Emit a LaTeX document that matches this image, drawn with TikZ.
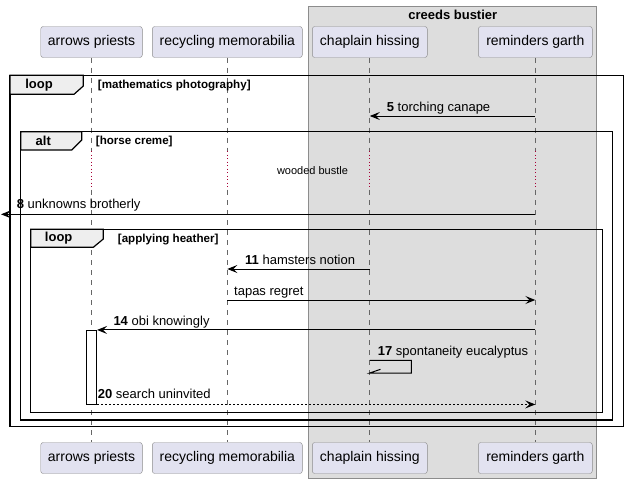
\documentclass[tikz,border=0pt]{standalone}
\usepackage{fontspec}
\setmainfont{Liberation Sans}
\usetikzlibrary{arrows.meta}

\definecolor{partfill}{HTML}{E2E2F0}
\definecolor{partline}{HTML}{8C8C8C}
\definecolor{grpfill}{HTML}{DDDDDD}
\definecolor{tabfill}{HTML}{EEEEEE}
\definecolor{delayred}{HTML}{A80036}

\tikzset{
  part/.style={draw=partline,fill=partfill,rounded corners=2.5pt,
    minimum height=31pt,inner sep=0pt,font=\fontsize{14}{16}\selectfont},
  life/.style={draw=gray!80!black,line width=.8pt,dash pattern=on 5pt off 5pt},
  delay/.style={draw=delayred,line width=.9pt,dash pattern=on 1pt off 2.5pt},
  frame/.style={draw=black,line width=1.5pt},
  tab/.style={fill=tabfill,draw=black,line width=1.2pt},
  msg/.style={draw=black,line width=1pt,-{Stealth[length=10pt,width=8pt,inset=4pt]}},
  rmsg/.style={msg,dash pattern=on 2pt off 2pt},
  lbl/.style={anchor=base west,inner sep=0pt,font=\fontsize{13}{15}\selectfont},
  kw/.style={inner sep=0pt,font=\bfseries\fontsize{13}{15}\selectfont},
  guard/.style={anchor=west,inner sep=0pt,font=\bfseries\fontsize{11.6}{13}\selectfont}
}

\begin{document}
\begin{tikzpicture}[x=1pt,y=-1pt]
  \useasboundingbox (0,0) rectangle (627,483);

  % box round the last two
  \filldraw[fill=grpfill,draw=partline] (308.3,6) rectangle (596,478);
  \node[kw] (grp) at (452.8,15) {creeds bustier};

  % participants, top and bottom
  \node[part,minimum width=101.6pt] (ap) at (91.5,42) {arrows priests};
  \node[part,minimum width=150pt] (rm) at (227.3,42) {recycling memorabilia};
  \node[part,minimum width=115pt] (ch) at (369.8,42) {chaplain hissing};
  \node[part,minimum width=114pt] (rg) at (535.3,42) {reminders garth};
  \node[part,minimum width=101.6pt] (ap-b) at (91.5,458) {arrows priests};
  \node[part,minimum width=150pt] (rm-b) at (227.3,458) {recycling memorabilia};
  \node[part,minimum width=115pt] (ch-b) at (369.8,458) {chaplain hissing};
  \node[part,minimum width=114pt] (rg-b) at (535.3,458) {reminders garth};

  \foreach \p in {ap,rm,ch,rg}{
    \draw[life] (\p.south) -- (\p.south |- 0,151);
    \draw[delay] (\p.south |- 0,151) -- (\p.south |- 0,190);
    \draw[life] (\p.south |- 0,190) -- (\p-b.north);
  }

  % frames
  \draw[frame] (10,75.3) rectangle (623.3,426.7);
  \filldraw[tab] (10,75.3) -- (83.3,75.3) -- (83.3,86) -- (74,94.3) -- (10,94.3) -- cycle;
  \node[kw] (loop1) at (39,85) {loop};
  \node[guard] (g1) at (97.7,85.7) {[mathematics photography]};

  \draw[frame] (20.7,131.7) rectangle (612.7,420);
  \filldraw[tab] (20.7,131.7) -- (81.7,131.7) -- (81.7,140) -- (71.7,150) -- (20.7,150) -- cycle;
  \node[kw] (alt) at (43.3,141) {alt};
  \node[guard] (g2) at (95.7,141.7) {[horse creme]};

  \draw[frame] (30.7,229.3) rectangle (602.7,412.3);
  \filldraw[tab] (30.7,229.3) -- (103.3,229.3) -- (103.3,239) -- (93.3,247.3) -- (30.7,247.3) -- cycle;
  \node[kw] (loop2) at (58.7,238.5) {loop};
  \node[guard] (g3) at (117.7,239.3) {[applying heather]};

  % messages
  \draw[msg] (rg.south |- 0,116) -- (ch.south |- 0,116);
  \node[lbl] (l5) at (386.7,111) {\textbf{5} torching canape};

  \node[font=\fontsize{11}{13}\selectfont] (dl) at (312.5,171) {wooded bustle};

  \coordinate (out8) at (1,214.3);
  \draw[msg] (rg.south |- 0,214.3) -- (out8);
  \node[lbl] (l8) at (16.7,208.8) {\textbf{8} unknowns brotherly};

  \draw[msg] (ch.south |- 0,269) -- (rm.south |- 0,269);
  \node[lbl] (l11) at (245,264) {\textbf{11} hamsters notion};

  \draw[msg] (rm.south |- 0,300) -- (rg.south |- 0,300);
  \node[lbl] (lt) at (234,295) {tapas regret};

  \node[draw=black,fill=white,line width=.8pt,minimum width=10.4pt,
    minimum height=73.7pt,inner sep=0pt] (act) at (91.5,367.2) {};
  \draw[msg] (rg.south |- act.north) -- (act.north east);
  \node[lbl] (l14) at (113.3,325.3) {\textbf{14} obi knowingly};

  \coordinate (s17a) at (411.3,360.3);
  \coordinate (s17b) at (411.3,373);
  \draw[line width=1pt] (ch.south |- s17a) -- (s17a) -- (s17b) -- (ch.south |- s17b)
    -- ++(10.7,-3.7);
  \node[lbl] (l17) at (377.7,355.3) {\textbf{17} spontaneity eucalyptus};

  \draw[rmsg] (act.south east) -- (rg.south |- act.south);
  \node[lbl] (l20) at (97.7,398.5) {\textbf{20} search uninvited};
\end{tikzpicture}
\end{document}
